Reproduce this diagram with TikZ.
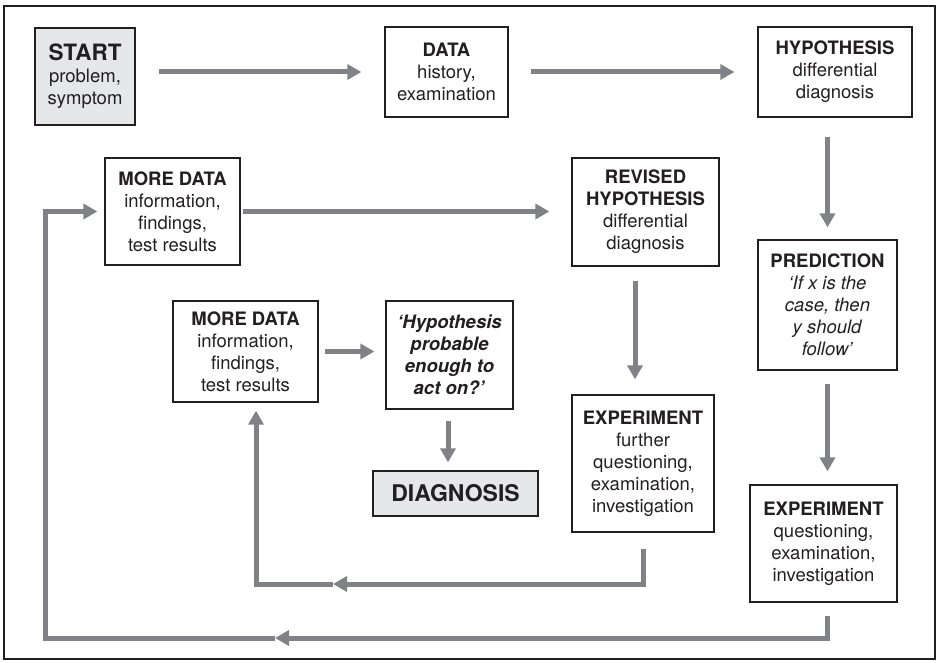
\documentclass[tikz,border=0pt]{standalone}
\usepackage{fontspec}
\setmainfont{TeX Gyre Heros}
\usetikzlibrary{arrows.meta}
\definecolor{flowgray}{HTML}{808285}
\definecolor{ink}{HTML}{231F20}
\definecolor{shade}{HTML}{E6E7E8}
\begin{document}
\begin{tikzpicture}[x=1pt,y=-1pt,
  box/.style={draw=ink, line width=1.3pt, align=center, inner sep=0pt,
    text=ink, font=\fontsize{18.5}{22}\selectfont},
  keybox/.style={box, fill=shade},
  flowline/.style={draw=flowgray, line width=5pt},
  flow/.style={flowline, -{Triangle[length=14pt,width=15pt]}},
  bigword/.style={font=\fontsize{23}{27}\selectfont\bfseries}]

\useasboundingbox (0,0) rectangle (939,663);
\draw[ink, line width=1.3pt] (4,6) rectangle (935,659);

% boxes
\node[keybox, minimum width=100pt, minimum height=97pt] (start) at (85,76.5)
  {{\fontsize{22.5}{25}\selectfont\bfseries START}\\problem,\\symptom};
\node[box, minimum width=123pt, minimum height=90pt] (data) at (446.5,72)
  {\textbf{DATA}\\history,\\examination};
\node[box, minimum width=154pt, minimum height=90pt] (hyp) at (835,72)
  {\textbf{HYPOTHESIS}\\differential\\diagnosis};
\node[box, minimum width=135pt, minimum height=107pt] (md1) at (172.5,211.5)
  {\textbf{MORE DATA}\\information,\\findings,\\test results};
\node[box, minimum width=147pt, minimum height=108pt] (rev) at (645.5,212)
  {\textbf{REVISED}\\\textbf{HYPOTHESIS}\\differential\\diagnosis};
\node[box, minimum width=139pt, minimum height=130pt] (pred) at (827.5,305)
  {\textbf{PREDICTION}\\\textit{‘If x is the}\\\textit{case, then}\\\textit{y should}\\\textit{follow’}};
\node[box, minimum width=145pt, minimum height=101pt] (md2) at (245.5,351.5)
  {\textbf{MORE DATA}\\information,\\findings,\\test results};
\node[box, minimum width=127pt, minimum height=108pt] (hpe) at (449.5,355)
  {\textbf{\textit{‘Hypothesis}}\\\textbf{\textit{probable}}\\\textbf{\textit{enough to}}\\\textbf{\textit{act on?’}}};
\node[keybox, minimum width=165pt, minimum height=45pt, bigword] (diag) at (455.5,493.5)
  {DIAGNOSIS};
\node[box, minimum width=142pt, minimum height=137pt] (exp1) at (643,463.5)
  {\textbf{EXPERIMENT}\\further\\questioning,\\examination,\\investigation};
\node[box, minimum width=147pt, minimum height=117pt] (exp2) at (823.5,543.5)
  {\textbf{EXPERIMENT}\\questioning,\\examination,\\investigation};

% forward flow
\draw[flow, shorten <=23pt, shorten >=23pt] (start.east |- data.west) -- (data.west);
\draw[flow, shorten <=22pt, shorten >=23pt] (data.east) -- (hyp.west);
\draw[flow, shorten <=19pt, shorten >=12pt] (pred.north |- hyp.south) -- (pred.north);
\draw[flow, shorten <=13pt, shorten >=13pt] (pred.south) -- (pred.south |- exp2.north);
\draw[flow, shorten <=2pt, shorten >=22pt] (md1.east) -- (md1.east -| rev.west);
\draw[flow, shorten <=14pt, shorten >=15pt] ([xshift=-10.5pt]rev.south) -- ([xshift=-10.5pt]rev.south |- exp1.north);
\draw[flow, shorten <=6pt, shorten >=11pt] (md2.east) -- (md2.east -| hpe.west);
\draw[flow, shorten <=11pt, shorten >=8pt] ([xshift=-1.5pt]hpe.south) -- ([xshift=-1.5pt]hpe.south |- diag.north);

% outer return loop: experiment back to more data
\coordinate (r1a) at ([shift={(3.5,13)}]exp2.south);
\coordinate (r1b) at (827,638);
\coordinate (r1m) at (275,638);
\coordinate (r1c) at (45,638);
\draw[flow] (r1a) -- (r1b) -- (r1m);
\draw[flow, shorten >=7pt] (r1m) -- (r1c) |- (md1.west);

% inner return loop: further experiment back to more data
\coordinate (r2a) at ([shift={(0,16)}]exp1.south);
\coordinate (r2b) at (643,584);
\coordinate (r2m) at (333,584);
\coordinate (r2c) at (256,584);
\draw[flow] (r2a) -- (r2b) -- (r2m);
\draw[flow, shorten >=8pt] (r2m) -- (r2c) -- (r2c |- md2.south);
\end{tikzpicture}
\end{document}
